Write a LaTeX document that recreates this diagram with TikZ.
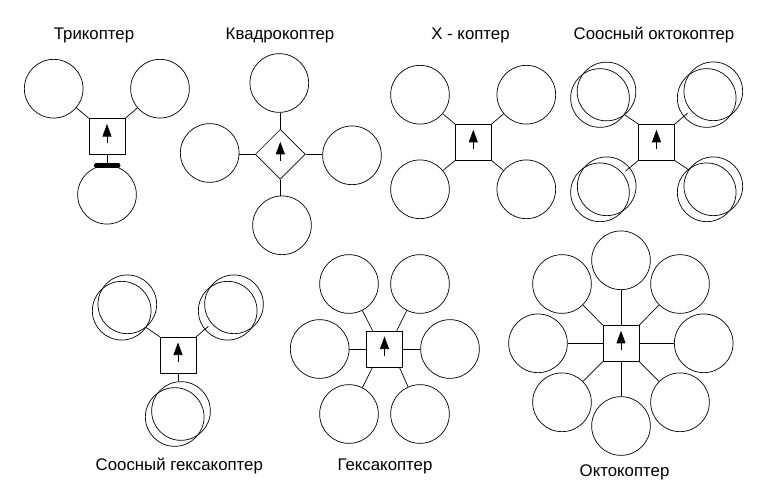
\documentclass[tikz,border=0pt]{standalone}
\usepackage{fontspec}
\setmainfont{Liberation Sans}
\usetikzlibrary{shapes,arrows.meta,positioning}
\tikzset{
  rotor/.style={circle,draw,minimum size=58.7pt,inner sep=0pt},
  core/.style={rectangle,draw,minimum size=35.7pt,inner sep=0pt},
  corediamond/.style={diamond,draw,aspect=1,minimum size=50pt,inner sep=0pt},
  caption/.style={font=\fontsize{16.8}{19}\selectfont,inner sep=0pt}
}
\newcommand{\nosearrow}[1]{\draw[-{Triangle[length=12.5pt,width=9pt]}] ([yshift=-6.5pt]#1.center) -- ([yshift=12.5pt]#1.center);}

\begin{document}
\begin{tikzpicture}[x=1pt,y=-1pt,line width=0.7pt]
\useasboundingbox (0,0) rectangle (765,503);

% Trikopter
\node[caption] (tricap) at (94,35.5) {Трикоптер};
\node[core] (tri) at (107,136.5) {};
\node[rotor] (tri1) at (53.7,88.7) {};
\node[rotor] (tri2) at (160,88.7) {};
\node[rotor] (tri3) at (107,194.7) {};
\draw (tri.north west) -- (tri1);
\draw (tri.north east) -- (tri2);
\draw (tri.south) -- (tri3);
\coordinate (tribarl) at (96.2,165.3);
\coordinate (tribarr) at (118.2,165.3);
\draw[line width=4.5pt,line cap=round] (tribarl) -- (tribarr);
\nosearrow{tri}

% Kvadrokopter
\node[caption] (quadcap) at (280,35.5) {Квадрокоптер};
\node[corediamond] (quad) at (280.3,154.3) {};
\node[rotor] (quad1) at (279.3,83) {};
\node[rotor] (quad2) at (209.7,153) {};
\node[rotor] (quad3) at (352,155.3) {};
\node[rotor] (quad4) at (282,225.3) {};
\draw (quad.north) -- (quad.north |- quad1.south);
\draw (quad.west) -- (quad.west -| quad2.east);
\draw (quad.east) -- (quad.east -| quad3.west);
\draw (quad.south) -- (quad.south |- quad4.north);
\nosearrow{quad}

% X - kopter
\node[caption] (xcap) at (470.5,35.5) {X - коптер};
\node[core] (xc) at (473.3,142.3) {};
\node[rotor] (xc1) at (420,94.7) {};
\node[rotor] (xc2) at (526.3,94.7) {};
\node[rotor] (xc3) at (420,189.3) {};
\node[rotor] (xc4) at (526.3,189.3) {};
\draw (xc.north west) -- (xc1);
\draw (xc.north east) -- (xc2);
\draw (xc.south west) -- (xc3);
\draw (xc.south east) -- (xc4);
\nosearrow{xc}

% Soosnyi oktokopter
\node[caption] (coctcap) at (654,35.5) {Соосный октокоптер};
\node[core] (coct) at (656.5,142.3) {};
\node[rotor] (coct1a) at (606.5,91.5) {};
\node[rotor] (coct1b) at (600,98) {};
\node[rotor] (coct2a) at (713.3,91.3) {};
\node[rotor] (coct2b) at (706.7,98) {};
\node[rotor] (coct3a) at (606.7,186.3) {};
\node[rotor] (coct3b) at (600,192.3) {};
\node[rotor] (coct4a) at (713.3,186.3) {};
\node[rotor] (coct4b) at (706.7,192.3) {};
\draw (coct.north west) -- (coct1b);
\draw[shorten >=4pt] (coct.north east) -- (coct2a);
\draw[shorten >=3.5pt] (coct.south west) -- (coct3b);
\draw (coct.south east) -- (coct4a);
\nosearrow{coct}

% Soosnyi geksakopter
\node[caption] (chexcap) at (179.3,466.5) {Соосный гексакоптер};
\node[core] (chex) at (178,355) {};
\node[rotor] (chex1a) at (127.3,304.3) {};
\node[rotor] (chex1b) at (121.7,310.7) {};
\node[rotor] (chex2a) at (234,304.3) {};
\node[rotor] (chex2b) at (227.7,310.7) {};
\node[rotor] (chex3a) at (181,411) {};
\node[rotor] (chex3b) at (174.7,417) {};
\draw (chex.north west) -- (chex1b);
\draw[shorten >=4pt] (chex.north east) -- (chex2a);
\draw (chex.south) -- (chex.south |- chex3a.north);
\nosearrow{chex}

% Geksakopter
\node[caption] (hexcap) at (385,466.5) {Гексакоптер};
\node[core] (hex) at (384.5,349) {};
\node[rotor] (hex1) at (349,284) {};
\node[rotor] (hex2) at (420,284) {};
\node[rotor] (hex3) at (319.7,349) {};
\node[rotor] (hex4) at (450,349) {};
\node[rotor] (hex5) at (349,414) {};
\node[rotor] (hex6) at (420,414) {};
\draw ([xshift=6.3pt]hex.north west) -- (hex1);
\draw ([xshift=-6pt]hex.north east) -- (hex2);
\draw (hex.west) -- (hex3);
\draw (hex.east) -- (hex4);
\draw ([xshift=6.3pt]hex.south west) -- (hex5);
\draw ([xshift=-3.3pt]hex.south east) -- (hex6);
\nosearrow{hex}

% Oktokopter
\node[caption] (octcap) at (624.5,472) {Октокоптер};
\node[core] (oct) at (621,343.3) {};
\node[rotor] (oct1) at (621,260.3) {};
\node[rotor] (oct2) at (562,284) {};
\node[rotor] (oct3) at (680,284) {};
\node[rotor] (oct4) at (538,343.3) {};
\node[rotor] (oct5) at (703.7,343.3) {};
\node[rotor] (oct6) at (562,402.3) {};
\node[rotor] (oct7) at (680,402.3) {};
\node[rotor] (oct8) at (621,426) {};
\draw (oct.north) -- (oct1);
\draw (oct.north west) -- (oct2);
\draw (oct.north east) -- (oct3);
\draw (oct.west) -- (oct4);
\draw (oct.east) -- (oct5);
\draw (oct.south west) -- (oct6);
\draw (oct.south east) -- (oct7);
\draw (oct.south) -- (oct8);
\nosearrow{oct}
\end{tikzpicture}
\end{document}
